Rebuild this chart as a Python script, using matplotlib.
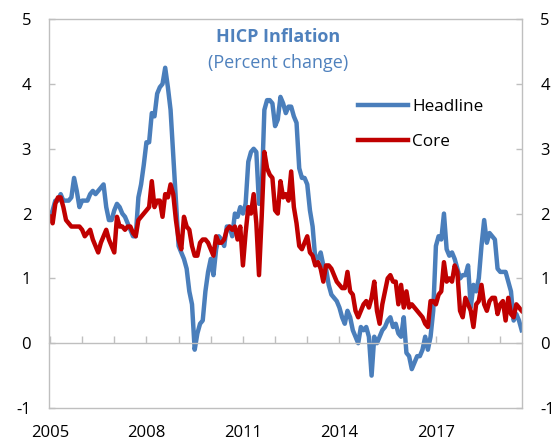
import numpy as np
import matplotlib
matplotlib.use('Agg')
import matplotlib.pyplot as plt

# Monthly HICP inflation, Jan 2005 - Sep 2019 (percent change, y/y)
start_year = 2005
headline = [
    1.95, 2.05, 2.2, 2.2, 2.3, 2.2, 2.2, 2.2, 2.25, 2.55, 2.35, 2.1,      # 2005
    2.2, 2.2, 2.2, 2.3, 2.35, 2.3, 2.35, 2.4, 2.45, 2.1, 1.9, 1.9,       # 2006
    2.05, 2.15, 2.1, 2.0, 1.95, 1.85, 1.75, 1.65, 1.65, 2.25, 2.45, 2.75, # 2007
    3.1, 3.1, 3.55, 3.5, 3.85, 3.95, 4.0, 4.25, 3.95, 3.6, 2.9, 2.2,     # 2008
    1.5, 1.4, 1.3, 1.15, 0.8, 0.6, -0.1, 0.15, 0.3, 0.35, 0.8, 1.1,      # 2009
    1.3, 1.05, 1.45, 1.65, 1.6, 1.5, 1.8, 1.8, 1.65, 2.0, 1.95, 2.1,     # 2010
    2.0, 2.15, 2.8, 2.95, 3.0, 2.95, 2.15, 2.35, 3.6, 3.75, 3.75, 3.7,   # 2011
    3.35, 3.45, 3.8, 3.7, 3.55, 3.65, 3.65, 3.5, 3.4, 2.7, 2.55, 2.55,   # 2012
    2.45, 2.05, 1.8, 1.3, 1.3, 1.4, 1.2, 1.15, 0.9, 0.75, 0.7, 0.65,     # 2013
    0.55, 0.4, 0.3, 0.5, 0.4, 0.2, 0.1, 0.0, 0.25, 0.2, 0.25, 0.1,       # 2014
    -0.5, 0.1, 0.0, 0.1, 0.2, 0.25, 0.35, 0.4, 0.25, 0.3, 0.15, 0.1,     # 2015
    0.4, -0.15, -0.2, -0.4, -0.3, -0.2, -0.2, -0.1, 0.1, -0.1, 0.1, 0.5, # 2016
    1.5, 1.65, 1.6, 2.0, 1.45, 1.35, 1.4, 1.3, 1.15, 1.0, 1.05, 1.05,    # 2017
    1.2, 0.55, 0.9, 0.8, 1.0, 1.5, 1.9, 1.55, 1.7, 1.65, 1.6, 1.15,      # 2018
    1.1, 1.1, 1.1, 0.95, 0.8, 0.35, 0.45, 0.35, 0.2,                     # 2019
]
core = [
    1.95, 1.85, 2.15, 2.25, 2.25, 2.1, 1.9, 1.85, 1.8, 1.8, 1.8, 1.8,    # 2005
    1.75, 1.65, 1.7, 1.75, 1.6, 1.5, 1.4, 1.55, 1.65, 1.75, 1.6, 1.5,    # 2006
    1.4, 1.95, 1.8, 1.8, 1.75, 1.8, 1.8, 1.7, 1.65, 1.9, 1.95, 2.0,      # 2007
    2.05, 2.1, 2.5, 2.1, 2.2, 2.2, 1.95, 2.3, 2.25, 2.45, 2.3, 1.9,      # 2008
    1.6, 1.45, 1.95, 1.8, 1.75, 1.5, 1.35, 1.35, 1.55, 1.6, 1.6, 1.55,   # 2009
    1.45, 1.35, 1.65, 1.55, 1.55, 1.6, 1.75, 1.8, 1.75, 1.8, 1.6, 1.8,   # 2010
    1.2, 1.7, 2.1, 2.0, 2.3, 1.85, 1.05, 1.95, 2.95, 2.7, 2.6, 2.55,     # 2011
    2.05, 2.0, 2.5, 2.25, 2.3, 2.2, 2.65, 2.1, 1.85, 1.5, 1.45, 1.55,    # 2012
    1.65, 1.4, 1.35, 1.2, 1.25, 1.15, 0.95, 1.2, 1.2, 1.15, 1.05, 0.95,  # 2013
    0.9, 0.85, 0.85, 1.1, 0.8, 0.75, 0.5, 0.4, 0.5, 0.6, 0.65, 0.55,     # 2014
    0.7, 0.95, 0.5, 0.3, 0.6, 0.8, 1.0, 1.05, 0.95, 0.95, 0.6, 0.9,      # 2015
    0.55, 0.8, 0.55, 0.6, 0.55, 0.5, 0.45, 0.4, 0.3, 0.25, 0.65, 0.65,   # 2016
    0.6, 0.75, 0.8, 1.25, 0.95, 1.0, 0.95, 1.2, 1.1, 0.5, 0.4, 0.7,      # 2017
    0.6, 0.5, 0.25, 0.6, 0.65, 0.9, 0.6, 0.5, 0.65, 0.7, 0.7, 0.45,      # 2018
    0.6, 0.65, 0.35, 0.7, 0.45, 0.4, 0.6, 0.55, 0.5,                     # 2019
]
year_ticks = list(range(2005, 2020))
label_years = [2005, 2008, 2011, 2014, 2017]
y_ticks = [-1, 0, 1, 2, 3, 4, 5]

plt.rcParams['font.family'] = ['Open Sans', 'DejaVu Sans']
plt.rcParams['axes.unicode_minus'] = False

grey = '#BFBFBF'
blue = '#4A7EBB'
red = '#C00000'
title_blue = '#4F81BD'

t = start_year + np.arange(len(headline)) / 12

fig = plt.figure(figsize=(5.59, 4.45), dpi=100)
ax = fig.add_axes([0.0882, 0.0831, 0.8462, 0.8739])

ax.plot(t, headline, color=blue, lw=3.2, label='Headline', solid_joinstyle='round')
ax.plot(t, core, color=red, lw=3.2, label='Core', solid_joinstyle='round')

ax.set_xlim(t[0] - 0.02, t[-1] + 0.02)
ax.set_ylim(-1, 5)
ax.set_yticks(y_ticks)
ax.tick_params(axis='y', left=True, right=True, labelleft=True, labelright=True,
               direction='in', length=4.5, width=1, color=grey, pad=13, labelsize=12)

# zero line carries the year tick marks
ax.spines['bottom'].set_position(('data', 0))
ax.set_xticks(year_ticks)
ax.tick_params(axis='x', direction='in', length=5, width=1, color=grey, labelbottom=False)
for s in ax.spines.values():
    s.set_color(grey)
    s.set_linewidth(1)

# year labels under the frame
secx = ax.secondary_xaxis('bottom')
secx.set_xticks(label_years)
secx.set_xticklabels([str(y) for y in label_years])
secx.tick_params(length=0, pad=12, labelsize=12)
secx.spines['bottom'].set_color(grey)
secx.spines['bottom'].set_linewidth(1)

ax.text(0.4835, 0.954, 'HICP Inflation', transform=ax.transAxes, ha='center', va='center',
        fontsize=13, fontweight='bold', color=title_blue)
ax.text(0.4835, 0.887, '(Percent change)', transform=ax.transAxes, ha='center', va='center',
        fontsize=13, color=title_blue)

ax.legend(loc='upper left', bbox_to_anchor=(0.653, 0.795), frameon=False, fontsize=12.3,
          handlelength=2.9, handletextpad=0.25, labelspacing=1.1,
          borderpad=0, borderaxespad=0)

plt.savefig('out.png', dpi=100)
